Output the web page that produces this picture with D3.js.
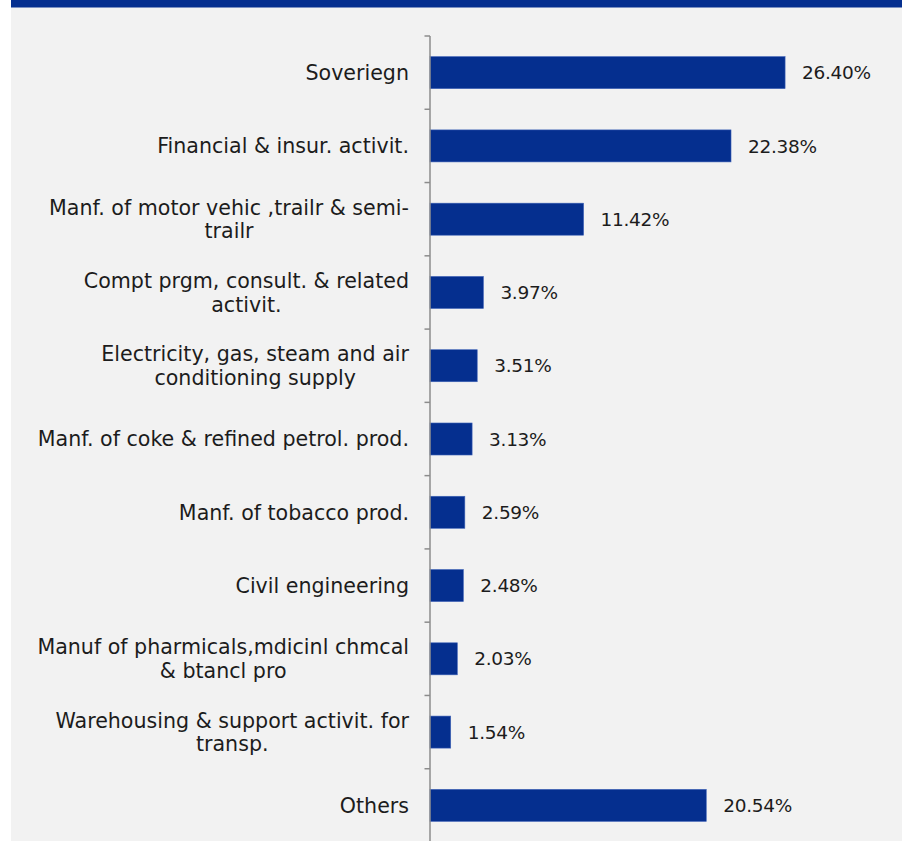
<!DOCTYPE html>
<html>
<head>
<meta charset="utf-8">
<script src="https://cdn.jsdelivr.net/npm/d3@7"></script>
<style>
  html, body { margin: 0; padding: 0; background: #ffffff; }
  svg { display: block; }
  text { font-family: "DejaVu Sans", "Noto Sans", sans-serif; fill: #1c1c1c; }
</style>
</head>
<body>
<svg id="chart" width="907" height="841"></svg>
<script>
// Sector exposure shares (%), top to bottom
const categories = [
  "Soveriegn",
  "Financial & insur. activit.",
  "Manf. of motor vehic ,trailr & semi-\ntrailr",
  "Compt prgm, consult. & related\nactivit.",
  "Electricity, gas, steam and air\nconditioning supply",
  "Manf. of coke & refined petrol. prod.",
  "Manf. of tobacco prod.",
  "Civil engineering",
  "Manuf of pharmicals,mdicinl chmcal\n& btancl pro",
  "Warehousing & support activit. for\ntransp.",
  "Others"
];
const shares = [26.40, 22.38, 11.42, 3.97, 3.51, 3.13, 2.59, 2.48, 2.03, 1.54, 20.54];
const shareLabels = ["26.40%", "22.38%", "11.42%", "3.97%", "3.51%", "3.13%", "2.59%", "2.48%", "2.03%", "1.54%", "20.54%"];

const data = categories.map((c, i) => ({ cat: c, value: shares[i], label: shareLabels[i] }));

const svg = d3.select("#chart");
const BLUE = "#052f8f";
const CAT_FONT = 20.6;
const VAL_FONT = 18.5;

// panel background and header strip
svg.append("rect").attr("x", 11).attr("y", 0).attr("width", 891).attr("height", 841).attr("fill", "#f2f2f2");
svg.append("rect").attr("x", 11).attr("y", 0).attr("width", 891).attr("height", 7.5).attr("fill", BLUE);

const x0 = 430;
const x = d3.scaleLinear().domain([0, 30]).range([x0, x0 + 403.5]);
const y = d3.scaleBand()
  .domain(categories)
  .range([36, 842])
  .paddingInner(0.563)
  .paddingOuter(0.563 / 2);
const step = y.step();

// bars
svg.append("g").selectAll("rect")
  .data(data)
  .join("rect")
  .attr("x", x(0))
  .attr("y", d => y(d.cat))
  .attr("width", d => x(d.value) - x(0))
  .attr("height", y.bandwidth())
  .attr("fill", BLUE)
  .attr("stroke", "#3f63b8")
  .attr("stroke-width", 0.6);

// value labels
svg.append("g").selectAll("text")
  .data(data)
  .join("text")
  .attr("x", d => x(d.value) + 17)
  .attr("y", d => y(d.cat) + y.bandwidth() / 2)
  .attr("dy", "0.36em")
  .attr("font-size", VAL_FONT)
  .attr("letter-spacing", -0.3)
  .text(d => d.label);

// category axis: line plus ticks at band boundaries
const axis = svg.append("g");
axis.append("line")
  .attr("x1", x0).attr("x2", x0)
  .attr("y1", 36).attr("y2", 842)
  .attr("stroke", "#8c8c8c").attr("stroke-width", 1.5);
d3.range(categories.length + 1).forEach(i => {
  const ty = 36 + i * step;
  axis.append("line")
    .attr("x1", x0 - 5.5).attr("x2", x0)
    .attr("y1", ty).attr("y2", ty)
    .attr("stroke", "#8c8c8c").attr("stroke-width", 1.5);
});

// category labels: block right-aligned, lines centred within the block
const labelRight = 409;
const lineH = 23.5;
categories.forEach(c => {
  const lines = c.split("\n");
  const g = svg.append("g");
  const texts = lines.map(l => g.append("text").attr("font-size", CAT_FONT).text(l));
  const widths = texts.map(t => t.node().getComputedTextLength());
  const maxW = d3.max(widths);
  const cy = y(c) + y.bandwidth() / 2;
  texts.forEach((t, i) => {
    t.attr("x", labelRight - maxW / 2)
     .attr("text-anchor", "middle")
     .attr("y", cy + (i - (lines.length - 1) / 2) * lineH)
     .attr("dy", "0.36em");
  });
});
</script>
</body>
</html>
